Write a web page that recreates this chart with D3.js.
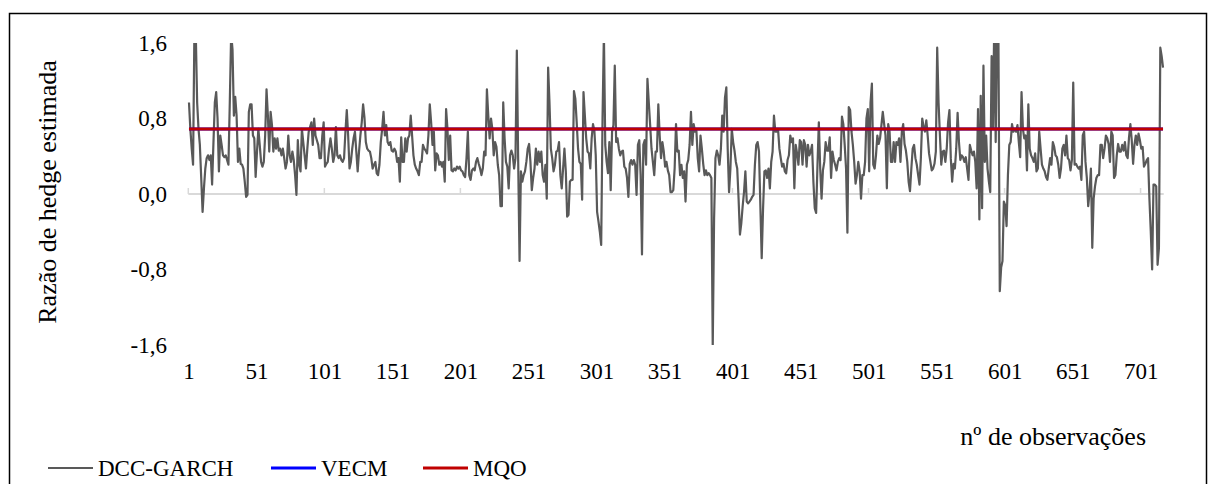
<!DOCTYPE html>
<html>
<head>
<meta charset="utf-8">
<script src="https://cdn.jsdelivr.net/npm/d3@7"></script>
<style>
  html, body { margin: 0; padding: 0; background: #fff; }
  svg { display: block; }
  text { font-family: "Liberation Serif", "Times New Roman", serif; fill: #000; }
</style>
</head>
<body>
<svg id="chart" width="1208" height="484"></svg>
<script>
// ---------------- DATA ----------------
const seriesNames = ["DCC-GARCH", "VECM", "MQO"];
const yTicks = [-1.6, -0.8, 0.0, 0.8, 1.6];
const xTickLabels = ["1","51","101","151","201","251","301","351","401","451","501","551","601","651","701"];

// DCC-GARCH estimated hedge ratio (>1.6 clipped by the axis)
const dccGarch = [
0.97,0.69,0.48,0.31,1.75,1.70,0.97,0.69,0.52,0.17,
-0.19,0.06,0.27,0.38,0.41,0.36,0.41,0.10,0.55,0.97,
1.08,0.80,0.24,0.62,0.52,0.41,0.39,0.41,0.36,0.31,
0.97,1.70,1.53,0.83,1.03,0.83,0.34,0.48,0.32,0.31,
0.27,0.13,-0.03,-0.01,0.87,0.95,0.95,0.62,0.59,0.18,
0.45,0.69,0.52,0.34,0.29,0.34,0.62,1.11,0.83,0.45,
0.87,0.73,0.45,0.59,0.48,0.59,0.46,0.48,0.41,0.48,
0.38,
0.27,0.34,0.62,0.41,0.34,0.45,0.36,0.20,-0.01,0.57,
0.31,0.24,0.69,0.55,0.41,0.27,0.48,0.66,0.71,0.76,
0.52,0.80,0.62,0.57,0.52,0.38,0.38,0.62,0.76,0.29,
0.32,0.34,0.48,0.59,0.48,0.34,0.41,0.71,0.41,0.38,
0.41,0.36,0.34,0.38,0.66,0.89,0.62,0.27,0.34,0.48,
0.59,0.66,0.45,0.24,0.45,0.62,0.76,0.95,0.81,0.55,
0.48,0.46,0.45,0.38,0.27,0.31,0.34,0.22,0.20,0.31,
0.55,0.69,
0.87,0.62,0.73,0.55,0.52,0.55,0.46,0.45,0.48,0.45,
0.34,0.38,0.13,0.60,0.34,0.34,0.59,0.45,0.59,0.62,
0.83,0.62,0.41,0.31,0.27,0.24,0.20,0.34,0.34,0.52,
0.48,0.46,0.43,0.62,0.95,0.76,0.52,0.66,0.25,0.43,
0.41,0.31,0.34,0.29,0.34,0.13,0.90,0.69,0.36,0.62,
0.25,0.24,0.27,0.25,0.29,0.27,0.29,0.25,0.24,0.20,
0.18,0.38,0.66,0.20,0.15,0.25,0.27,0.25,0.34,0.38,
0.32,0.27,
0.20,0.27,0.45,0.41,1.11,0.83,0.59,0.80,0.69,0.41,
0.55,0.50,0.31,0.20,-0.13,-0.13,0.97,0.59,0.34,0.29,
0.06,0.41,0.46,0.41,0.27,0.38,1.52,0.34,-0.71,0.24,
0.13,0.20,0.24,0.34,0.48,0.53,0.34,0.04,0.17,0.27,
0.48,0.31,0.45,0.34,0.45,0.20,0.13,0.31,-0.05,1.34,
0.97,0.48,0.38,0.24,0.31,0.45,0.46,0.55,0.20,0.06,
0.27,0.48,0.24,-0.24,-0.22,0.13,0.15,0.15,1.09,1.01,
0.76,0.48,
0.34,0.32,-0.06,1.08,0.83,0.59,0.45,0.43,0.27,0.59,
0.74,0.67,0.41,-0.19,-0.29,-0.40,-0.54,0.80,1.70,0.52,
0.34,0.22,0.55,0.04,0.66,0.73,1.36,0.55,0.59,0.48,
0.41,0.45,0.46,0.29,0.27,0.17,-0.03,0.32,0.36,0.31,
0.36,0.31,-0.01,0.52,0.57,0.20,-0.64,0.52,0.57,0.31,
1.22,0.97,0.73,0.48,0.34,0.20,0.45,0.45,0.95,0.62,
0.38,0.55,0.45,0.29,0.34,0.25,0.20,0.02,0.02,0.04,
0.27,0.74,
0.45,0.46,0.20,0.31,0.17,0.24,-0.08,0.31,0.36,0.52,
0.87,0.52,0.74,0.66,0.67,0.38,0.24,0.62,0.48,0.32,
0.20,0.25,0.20,0.22,0.20,0.17,-1.62,-0.26,0.38,0.46,
0.41,0.31,0.48,0.83,0.66,1.02,1.13,0.48,0.02,0.27,
0.69,0.55,0.46,0.34,0.27,-0.05,-0.43,-0.31,-0.13,0.02,
0.24,-0.08,-0.10,-0.08,-0.06,-0.03,-0.01,0.31,0.52,0.55,
0.45,-0.12,-0.68,-0.15,0.24,0.25,0.17,0.27,0.06,0.34,
0.45,0.83,
0.66,0.66,0.69,0.48,0.38,0.29,0.32,0.24,0.22,0.36,
0.41,0.62,0.55,0.59,0.06,0.52,0.43,0.31,0.57,0.55,
0.31,0.57,0.52,0.29,0.52,0.41,0.45,0.52,0.13,-0.15,
-0.20,0.31,0.76,0.27,-0.05,0.25,0.34,0.55,0.46,0.46,
0.60,0.17,0.45,0.36,0.31,0.25,0.34,0.38,0.36,0.82,
0.74,0.52,0.27,-0.41,0.92,0.89,0.66,0.52,0.34,0.11,
0.20,0.34,0.24,-0.05,0.20,0.20,0.34,0.80,0.90,0.24,
0.97,1.17,
0.31,0.27,0.41,0.62,0.53,0.59,0.73,0.87,0.74,0.62,
0.06,0.74,0.66,0.34,0.34,0.55,0.34,0.55,0.52,0.59,
0.34,0.66,0.74,0.53,0.46,0.34,0.13,0.03,0.27,0.48,
0.52,0.38,0.31,0.20,0.10,0.38,0.80,0.71,0.66,0.78,
0.62,0.43,0.34,0.25,0.27,0.32,0.45,1.55,0.97,0.62,
0.31,0.45,0.46,0.34,0.48,0.76,0.89,0.38,0.13,0.32,
0.27,0.48,0.86,0.55,0.36,0.41,0.39,0.34,0.39,0.27,
0.15,0.52,
0.46,0.41,0.45,0.34,0.06,0.90,-0.27,1.04,-0.15,1.36,
0.34,0.62,0.27,0.13,0.02,1.46,0.70,1.90,0.55,1.80,
1.70,-1.03,-0.78,-0.71,-0.08,-0.12,-0.34,0.20,0.52,0.55,
0.74,0.66,0.69,0.66,0.73,0.55,0.39,1.08,0.69,0.59,
0.62,0.25,0.95,0.48,0.41,0.38,0.34,0.43,0.24,0.27,
0.66,0.48,0.31,0.27,0.24,0.18,0.15,0.27,0.38,0.31,
0.55,0.50,0.41,0.39,0.31,0.17,0.27,0.48,0.52,0.41,
0.62,0.38,
0.36,0.25,0.36,1.18,0.31,0.32,0.29,0.27,0.29,0.15,
0.62,0.66,0.34,0.17,-0.13,0.02,0.27,-0.57,-0.05,0.08,
0.17,0.20,0.20,0.52,0.52,0.38,0.48,0.62,0.59,0.53,
0.34,0.66,0.62,0.17,0.20,0.41,0.53,0.45,0.45,0.52,
0.46,0.55,0.41,0.38,0.60,0.74,0.57,0.32,0.52,0.62,
0.52,0.64,0.57,0.48,0.50,0.29,0.32,0.36,0.38,-0.05,
-0.40,-0.80,0.10,0.10,0.08,-0.75,-0.57,1.55,1.46,1.34
];
// constant hedge ratios (VECM lies under the MQO line)
const vecmValue = 0.69;
const mqoValue = 0.69;
const categories = dccGarch.map((d, i) => i + 1);
const vecm = categories.map(() => vecmValue);
const mqo = categories.map(() => mqoValue);
const colors = ["#595959", "#0000FF", "#C00000"];

// ---------------- CHART ----------------
const svg = d3.select("#chart");
svg.append("rect").attr("x", 0).attr("y", 0).attr("width", 1208).attr("height", 484).attr("fill", "#fff");
svg.append("rect").attr("x", 9.5).attr("y", 13.5).attr("width", 1197).attr("height", 480)
  .attr("fill", "none").attr("stroke", "#000").attr("stroke-width", 1.5);

const x = d3.scaleBand().domain(categories).range([188.3, 1163.7]).padding(0);
const cx = c => x(c) + x.bandwidth() / 2;
const y = d3.scaleLinear().domain([-1.6, 1.6]).range([345, 43]);

svg.append("defs").append("clipPath").attr("id", "plotclip")
  .append("rect").attr("x", 180).attr("y", y(1.6)).attr("width", 1000).attr("height", y(-1.6) - y(1.6));

// y axis labels (no axis line)
const yAxis = d3.axisLeft(y).tickValues(yTicks).tickSize(0).tickPadding(0)
  .tickFormat(d => d3.format(".1f")(d).replace(".", ",").replace("\u2212", "-"));
const gy = svg.append("g").attr("transform", "translate(167,0)").call(yAxis);
gy.select(".domain").remove();
gy.selectAll("text").attr("font-size", 23).attr("font-family", '"Liberation Serif", serif').attr("fill", "#000");

// zero line (category axis)
svg.append("line").attr("x1", x.range()[0]).attr("x2", x.range()[1])
  .attr("y1", y(0)).attr("y2", y(0)).attr("stroke", "#D9D9D9").attr("stroke-width", 2);
const tickCats = categories.filter(c => (c - 1) % 100 === 0);
svg.selectAll(".xtick").data(tickCats).enter().append("line")
  .attr("x1", c => x(c)).attr("x2", c => x(c))
  .attr("y1", y(0)).attr("y2", y(0) - 6)
  .attr("stroke", "#D9D9D9").attr("stroke-width", 1.5);

// x labels along the bottom
svg.selectAll(".xlab").data(xTickLabels).enter().append("text")
  .attr("x", d => cx(+d)).attr("y", 379)
  .attr("text-anchor", "middle").attr("font-size", 23).text(d => d);

// series
const line = d3.line().x((d, i) => cx(categories[i])).y(d => y(d));
const gp = svg.append("g").attr("clip-path", "url(#plotclip)");
gp.append("path").datum(dccGarch).attr("d", line).attr("fill", "none")
  .attr("stroke", colors[0]).attr("stroke-width", 2.2).attr("stroke-linejoin", "round");
gp.append("path").datum(vecm).attr("d", line).attr("fill", "none")
  .attr("stroke", colors[1]).attr("stroke-width", 3);
gp.append("path").datum(mqo).attr("d", line).attr("fill", "none")
  .attr("stroke", colors[2]).attr("stroke-width", 3);

// axis titles
svg.append("text").attr("transform", "translate(56,192) rotate(-90)")
  .attr("text-anchor", "middle").attr("font-size", 26).text("Razão de hedge estimada");
svg.append("text").attr("x", 1146).attr("y", 445).attr("text-anchor", "end")
  .attr("font-size", 26).text("nº de observações");

// legend
const legX = [48, 271, 423];
const leg = svg.selectAll(".leg").data(seriesNames).enter().append("g")
  .attr("transform", (d, i) => `translate(${legX[i]},468)`);
leg.append("line").attr("x1", 0).attr("x2", 45).attr("y1", 0).attr("y2", 0)
  .attr("stroke", (d, i) => colors[i]).attr("stroke-width", (d, i) => i === 0 ? 2 : 3);
leg.append("text").attr("x", 50).attr("y", 8).attr("font-size", 23).text(d => d);
</script>
</body>
</html>
